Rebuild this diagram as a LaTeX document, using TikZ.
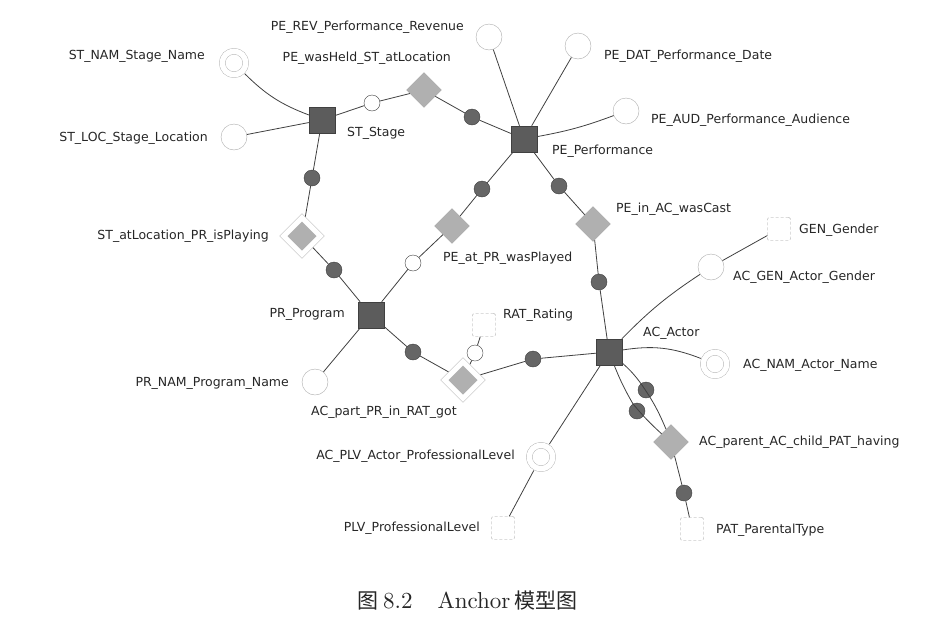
\documentclass[tikz,border=0pt]{standalone}
\usepackage{fontspec}
\newfontfamily\lblfont{DejaVu Sans}
\newfontfamily\cjk{Noto Sans CJK SC}
\newfontfamily\capfont{lmroman10-regular.otf}
\usetikzlibrary{shapes, positioning}

\begin{document}
\begin{tikzpicture}[
    x=1pt, y=-1pt,
    anchorbox/.style={
        rectangle, draw=black!75, fill=black!64,
        minimum size=26pt, inner sep=0pt
    },
    tie/.style={
        diamond, draw=gray!70, fill=gray!62,
        minimum size=35pt, inner sep=0pt
    },
    htie/.style={
        diamond, draw=gray!55, fill=white,
        minimum size=45pt, inner sep=0pt,
        path picture={\fill[gray!62] (path picture bounding box.center)
            ++(0,-14.5) -- ++(14.5,14.5) -- ++(-14.5,14.5) -- ++(-14.5,-14.5) -- cycle;}
    },
    attr/.style={
        circle, draw=gray!65, fill=white,
        minimum size=26pt, inner sep=0pt
    },
    hattr/.style={
        circle, draw=gray!65, double=white, double distance=5.5pt,
        minimum size=23.5pt, inner sep=0pt, outer sep=3.5pt
    },
    knot/.style={
        rectangle, rounded corners=2pt, draw=gray!75, densely dashed,
        fill=white, minimum size=23pt, inner sep=0pt
    },
    role/.style={
        circle, draw=black!75, fill=black!60,
        minimum size=16pt, inner sep=0pt
    },
    wrole/.style={role, fill=white},
    edge/.style={draw=black!75, line width=0.8pt},
    lbl/.style={font={\lblfont\fontsize{12.5}{14}\selectfont}, text=black!85, inner sep=0pt},
    captxt/.style={font={\capfont\fontsize{23}{27}\selectfont}, text=black!85, inner sep=0pt}
]
\useasboundingbox (0,0) rectangle (945,627);

% Anchors
\node[anchorbox] (st) at (322,120) {};
\node[anchorbox] (pe) at (524,139) {};
\node[anchorbox] (pr) at (371,315) {};
\node[anchorbox] (ac) at (609,352) {};

% Ties
\node[tie] (peheld) at (424,90) {};
\node[tie] (peplayed) at (452,226) {};
\node[tie] (pecast) at (593,224) {};
\node[tie] (achaving) at (671,442) {};
\node[htie] (stplaying) at (302,236) {};
\node[htie] (acgot) at (463,380) {};

% Attributes
\node[hattr] (stnam) at (234,63) {};
\node[attr] (stloc) at (234,137) {};
\node[attr] (perev) at (489,37) {};
\node[attr] (pedat) at (578,46) {};
\node[attr] (peaud) at (626,111) {};
\node[attr] (prnam) at (315,382) {};
\node[attr] (acgen) at (711,267) {};
\node[hattr] (acnam) at (715,364) {};
\node[hattr] (acplv) at (541,457) {};

% Knots
\node[knot] (gen) at (779,229) {};
\node[knot] (rat) at (484,325) {};
\node[knot] (plv) at (503,528) {};
\node[knot] (pat) at (692,529) {};

% Roles
\node[wrole] (rStHeld) at (372,103) {};
\node[role] (rHeldPe) at (472,117) {};
\node[role] (rStPlaying) at (312,178) {};
\node[role] (rPlayingPr) at (334,270) {};
\node[wrole] (rPrPlayed) at (413,263) {};
\node[role] (rPlayedPe) at (482,189) {};
\node[role] (rPeCast) at (559,186) {};
\node[role] (rCastAc) at (599,282) {};
\node[role] (rPrGot) at (413,352) {};
\node[wrole] (rGotRat) at (475,353) {};
\node[role] (rGotAc) at (533,359) {};
\node[role] (rParent) at (646,390) {};
\node[role] (rChild) at (637,411) {};
\node[role] (rHavingPat) at (684,493) {};

% Edges
\draw[edge] (stnam) to[bend right=12] (st);
\draw[edge] (stloc) -- (st);
\draw[edge] (st) -- (rStHeld) -- (peheld) -- (rHeldPe) -- (pe);
\draw[edge] (st) -- (rStPlaying) -- (stplaying) -- (rPlayingPr) -- (pr);
\draw[edge] (pr) -- (rPrPlayed) -- (peplayed) -- (rPlayedPe) -- (pe);
\draw[edge] (pe) -- (rPeCast) -- (pecast) -- (rCastAc) -- (ac);
\draw[edge] (pr) -- (rPrGot) -- (acgot) -- (rGotAc) -- (ac);
\draw[edge] (acgot) -- (rGotRat) -- (rat);
\draw[edge] (ac) to[bend left=6] (rParent) to[bend left=6] (achaving);
\draw[edge] (ac) to[bend right=4] (rChild) to[bend right=4] (achaving);
\draw[edge] (achaving) -- (rHavingPat) -- (pat);
\draw[edge] (pr) -- (prnam);
\draw[edge] (pe) -- (perev);
\draw[edge] (pe) -- (pedat);
\draw[edge] (pe) to[bend right=5] (peaud);
\draw[edge] (ac) to[bend left=6] (acgen);
\draw[edge] (acgen) -- (gen);
\draw[edge] (ac) to[bend left=15] (acnam);
\draw[edge] (ac) -- (acplv) -- (plv);

% Labels
\node[lbl, anchor=east] (perevLbl) at (464,27) {PE\_REV\_Performance\_Revenue};
\node[lbl, anchor=east] (stnamLbl) at (205,56) {ST\_NAM\_Stage\_Name};
\node[lbl, anchor=east] (peheldLbl) at (451,58) {PE\_wasHeld\_ST\_atLocation};
\node[lbl, anchor=east] (stlocLbl) at (208,138) {ST\_LOC\_Stage\_Location};
\node[lbl, anchor=west] (stLbl) at (347,133) {ST\_Stage};
\node[lbl, anchor=west] (pedatLbl) at (604,56) {PE\_DAT\_Performance\_Date};
\node[lbl, anchor=west] (peaudLbl) at (651,120) {PE\_AUD\_Performance\_Audience};
\node[lbl, anchor=west] (peLbl) at (552,151) {PE\_Performance};
\node[lbl, anchor=west] (pecastLbl) at (616,209) {PE\_in\_AC\_wasCast};
\node[lbl, anchor=west] (genLbl) at (799,230) {GEN\_Gender};
\node[lbl, anchor=west] (acgenLbl) at (733,277) {AC\_GEN\_Actor\_Gender};
\node[lbl, anchor=west] (peplayedLbl) at (443,258) {PE\_at\_PR\_wasPlayed};
\node[lbl, anchor=west] (ratLbl) at (503,315) {RAT\_Rating};
\node[lbl, anchor=west] (acLbl) at (643,333) {AC\_Actor};
\node[lbl, anchor=west] (acnamLbl) at (743,365) {AC\_NAM\_Actor\_Name};
\node[lbl, anchor=east] (stplayingLbl) at (269,236) {ST\_atLocation\_PR\_isPlaying};
\node[lbl, anchor=east] (prLbl) at (345,314) {PR\_Program};
\node[lbl, anchor=east] (prnamLbl) at (289,383) {PR\_NAM\_Program\_Name};
\node[lbl, anchor=west] (acgotLbl) at (311,412) {AC\_part\_PR\_in\_RAT\_got};
\node[lbl, anchor=east] (acplvLbl) at (515,456) {AC\_PLV\_Actor\_ProfessionalLevel};
\node[lbl, anchor=east] (plvLbl) at (480,528) {PLV\_ProfessionalLevel};
\node[lbl, anchor=west] (achavingLbl) at (699,442) {AC\_parent\_AC\_child\_PAT\_having};
\node[lbl, anchor=west] (patLbl) at (716,530) {PAT\_ParentalType};

% Caption
\node[captxt, anchor=west] (caption) at (357,601)
    {{\cjk\fontsize{21}{25}\selectfont 图}\hspace{5pt}8.2\hspace{25pt}Anchor\hspace{3.5pt}{\cjk\fontsize{21}{25}\selectfont 模型图}};

\end{tikzpicture}
\end{document}
